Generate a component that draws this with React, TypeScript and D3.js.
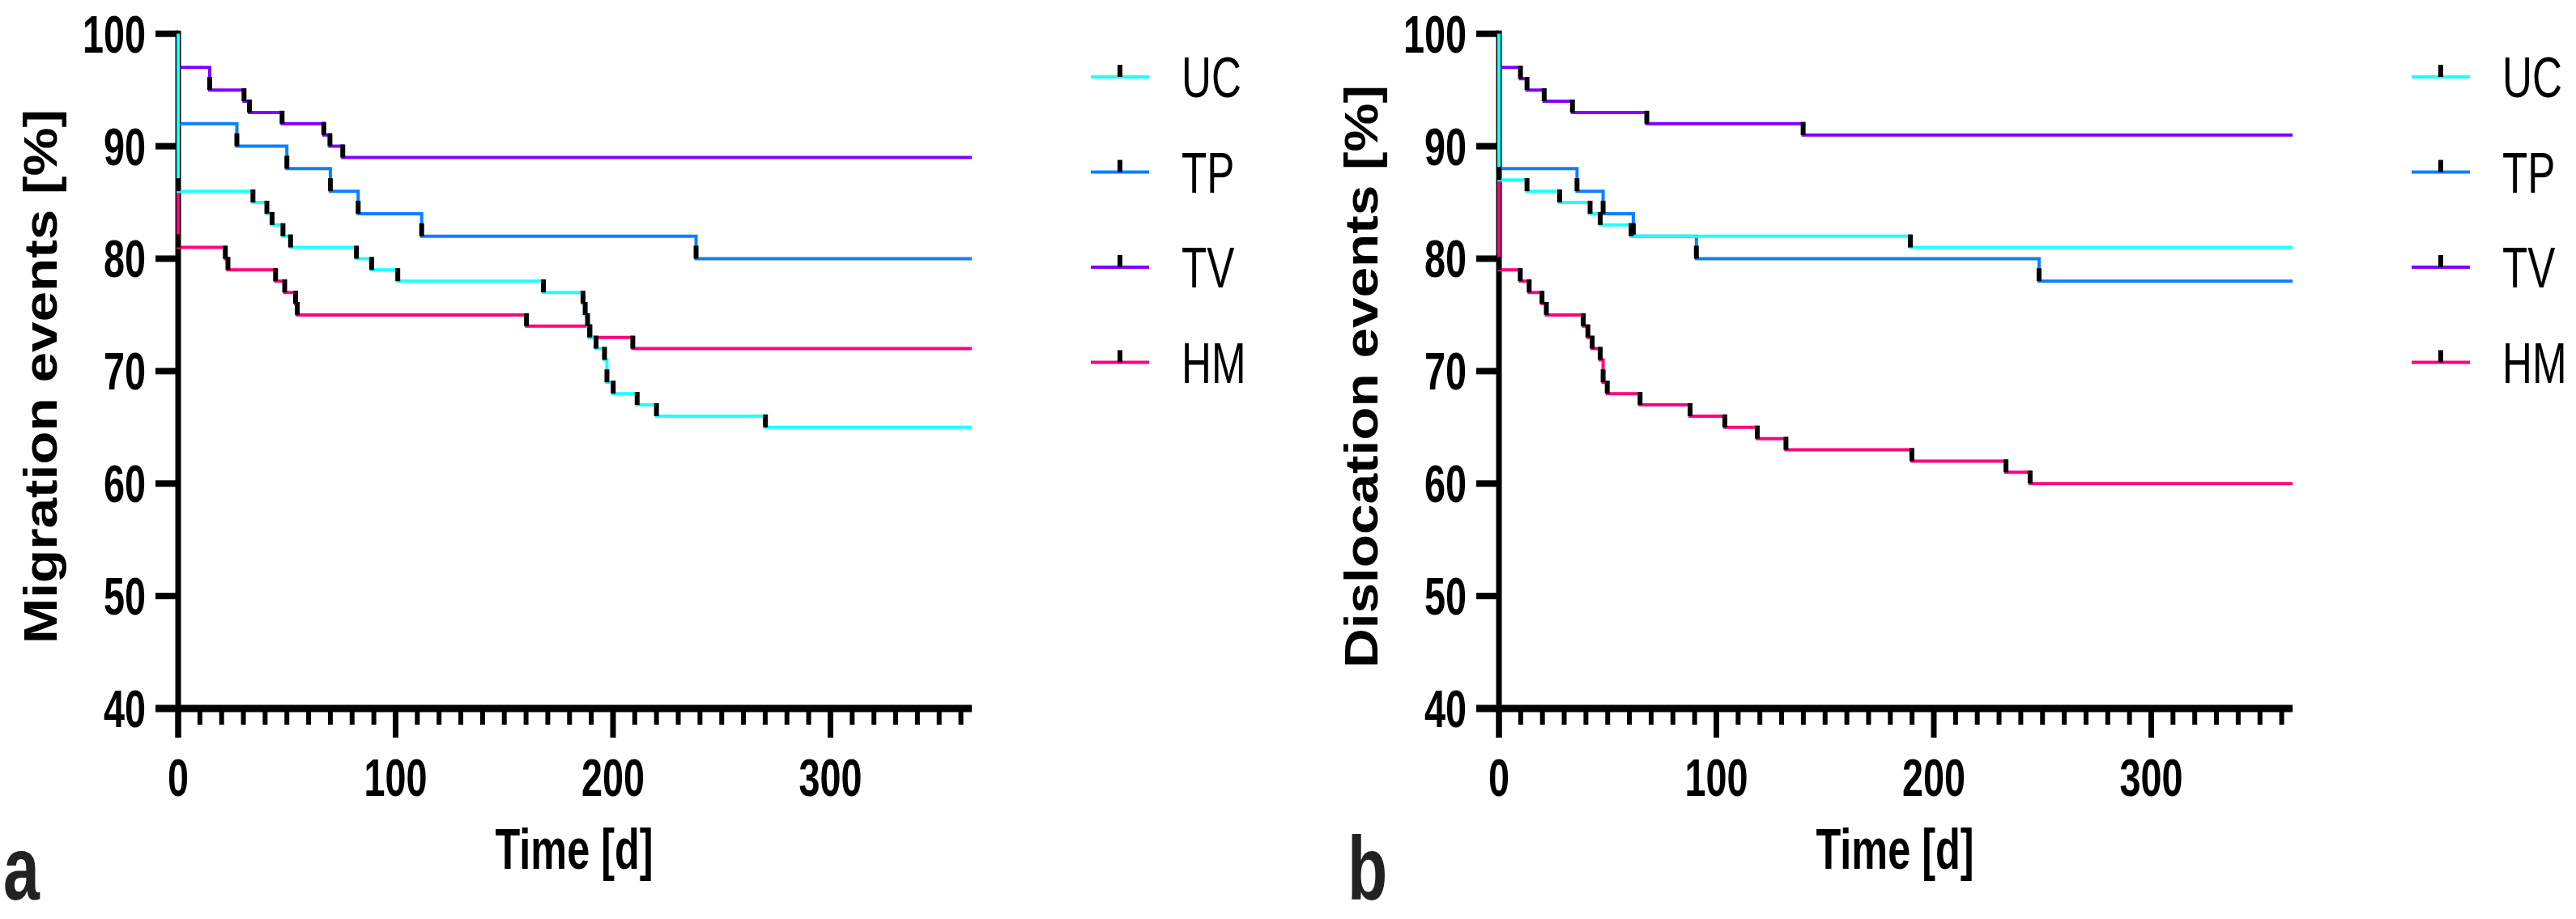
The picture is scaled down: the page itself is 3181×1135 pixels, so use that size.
import React from 'react';
import * as d3 from 'd3';

// Kaplan-Meier style step data: [day, percent] after each drop
type Step = [number, number];

const seriesNames = ['UC', 'TP', 'TV', 'HM'];
const seriesColors = ['#1effff', '#0d7fff', '#7f00ff', '#ff0080'];

const migrationUC: Step[] = [[0, 86], [34.4, 85], [40.8, 84], [43.2, 83], [48.2, 82], [51.7, 81], [82, 80], [89, 79], [101, 78], [168, 77], [186.2, 76], [187.2, 75], [188.3, 74], [189.3, 73], [192.2, 72], [196.1, 71], [197.2, 69], [200.1, 68], [211.1, 67], [220, 66], [270.1, 65]];
const migrationTP: Step[] = [[0, 92], [27, 90], [50, 88], [70, 86], [82.8, 84], [112, 82], [238.2, 80]];
const migrationTV: Step[] = [[0, 97], [14.5, 95], [30.3, 94], [32.8, 93], [47.8, 92], [67, 91], [69.8, 90], [75.7, 89]];
const migrationHM: Step[] = [[0, 81], [21.7, 80], [22.9, 79], [44.8, 78], [49, 77], [54, 76], [54.8, 75], [160.2, 74], [189.3, 73], [209.1, 72]];

const dislocationUC: Step[] = [[0, 87], [12.9, 86], [27.9, 85], [41.9, 84], [46.6, 83], [60.8, 82], [189.2, 81]];
const dislocationTP: Step[] = [[0, 88], [35.9, 86], [47.9, 84], [61.8, 82], [90.8, 80], [248.4, 78]];
const dislocationTV: Step[] = [[0, 97], [9.9, 96], [12.9, 95], [20.8, 94], [33.8, 93], [68, 92], [139.9, 91]];
const dislocationHM: Step[] = [[0, 79], [9.8, 78], [13.9, 77], [19.8, 76], [21.8, 75], [38.8, 74], [40.9, 73], [42.9, 72], [46.6, 71], [47.9, 69], [49.8, 68], [64.9, 67], [87.9, 66], [103.9, 65], [118.8, 64], [132, 63], [189.9, 62], [233.2, 61], [244.3, 60]];

const xMajorTicks = [0, 100, 200, 300];
const xMinorTicks = d3.range(10, 370, 10).filter((d) => d % 100 !== 0);
const yTicks = [40, 50, 60, 70, 80, 90, 100];
const X_MAX = 365;

const FONT = '"Liberation Sans", Arial, Helvetica, sans-serif';
const SX = 0.72; // horizontal squeeze of the original lettering

function Txt(props: { x: number; y: number; size: number; bold?: boolean; anchor?: string; rotate?: boolean; sx?: number; fill?: string; children: React.ReactNode }) {
	const { x, y, size, bold = true, anchor = 'start', rotate = false, sx = SX, fill = '#000', children } = props;
	return (
		<text
			transform={`translate(${x},${y}) scale(${sx},1)${rotate ? ' rotate(-90)' : ''}`}
			fontFamily={FONT}
			fontSize={size}
			fontWeight={bold ? 'bold' : 'normal'}
			textAnchor={anchor}
			fill={fill}
		>
			{children}
		</text>
	);
}

function Panel(props: { x0: number; title: string; series: Step[][]; letter: string; letterX: number }) {
	const { x0, title, series, letter, letterX } = props;
	const x = d3.scaleLinear().domain([0, X_MAX]).range([x0, x0 + 980]);
	const y = d3.scaleLinear().domain([40, 100]).range([875, 41.7]);
	const line = d3.line<Step>().x((d) => x(d[0])).y((d) => y(d[1])).curve(d3.curveStepAfter);
	const order = [3, 2, 1, 0]; // HM, TV, TP, UC (UC on top)
	const legX = x0 + 1127;

	return (
		<g>
			{/* axes */}
			<line x1={x(0)} x2={x(0)} y1={y(100) - 4} y2={y(40) + 36} stroke="#000" strokeWidth={7} />
			<line x1={x(0) - 28} x2={x(X_MAX)} y1={y(40)} y2={y(40)} stroke="#000" strokeWidth={9} />
			{yTicks.map((t) => (
				<g key={'y' + t}>
					<line x1={x(0) - 28} x2={x(0)} y1={y(t)} y2={y(t)} stroke="#000" strokeWidth={8} />
					<Txt x={x(0) - 40} y={y(t) + 23} size={65} anchor="end">{t}</Txt>
				</g>
			))}
			{xMajorTicks.map((t) => (
				<g key={'x' + t}>
					<line x1={x(t)} x2={x(t)} y1={y(40)} y2={y(40) + 36} stroke="#000" strokeWidth={7} />
					<Txt x={x(t)} y={983} size={65} anchor="middle">{t}</Txt>
				</g>
			))}
			{xMinorTicks.map((t) => (
				<line key={'m' + t} x1={x(t)} x2={x(t)} y1={y(40)} y2={y(40) + 20} stroke="#000" strokeWidth={6} />
			))}
			<Txt x={x(X_MAX / 2) - 1} y={1073} size={70} anchor="middle">Time [d]</Txt>
			<Txt x={x0 - 150} y={465} size={67.5} anchor="middle" rotate sx={0.86}>{title}</Txt>
			<Txt x={letterX} y={1111} size={112} fill="#222">{letter}</Txt>

			{/* survival curves with censor marks */}
			{order.map((i) => {
				const pts = series[i];
				const full: Step[] = [[0, 100], ...pts, [X_MAX, pts[pts.length - 1][1]]];
				return (
					<g key={seriesNames[i]}>
						<path d={line(full) || ''} fill="none" stroke={seriesColors[i]} strokeWidth={4} />
						{pts.map((p, k) => (
							<line key={k} x1={x(p[0])} x2={x(p[0])} y1={y(p[1])} y2={y(p[1]) - 16} stroke="#000" strokeWidth={6} />
						))}
					</g>
				);
			})}

			{/* legend */}
			{seriesNames.map((name, i) => {
				const ly = 95 + i * 117.5;
				return (
					<g key={'leg' + name}>
						<line x1={legX} x2={legX + 72} y1={ly} y2={ly} stroke={seriesColors[i]} strokeWidth={4} />
						<line x1={legX + 36} x2={legX + 36} y1={ly} y2={ly - 15} stroke="#000" strokeWidth={6} />
						<Txt x={legX + 112} y={ly + 25} size={71} bold={false}>{name}</Txt>
					</g>
				);
			})}
		</g>
	);
}

export default function App() {
	return (
		<div>
			<style>{'body{margin:0;background:#fff}'}</style>
			<svg width={3181} height={1135} style={{ display: 'block' }}>
				<rect width={3181} height={1135} fill="#fff" />
				<Panel x0={220} title="Migration events [%]" series={[migrationUC, migrationTP, migrationTV, migrationHM]} letter="a" letterX={4} />
				<Panel x0={1851} title="Dislocation events [%]" series={[dislocationUC, dislocationTP, dislocationTV, dislocationHM]} letter="b" letterX={1664} />
			</svg>
		</div>
	);
}
